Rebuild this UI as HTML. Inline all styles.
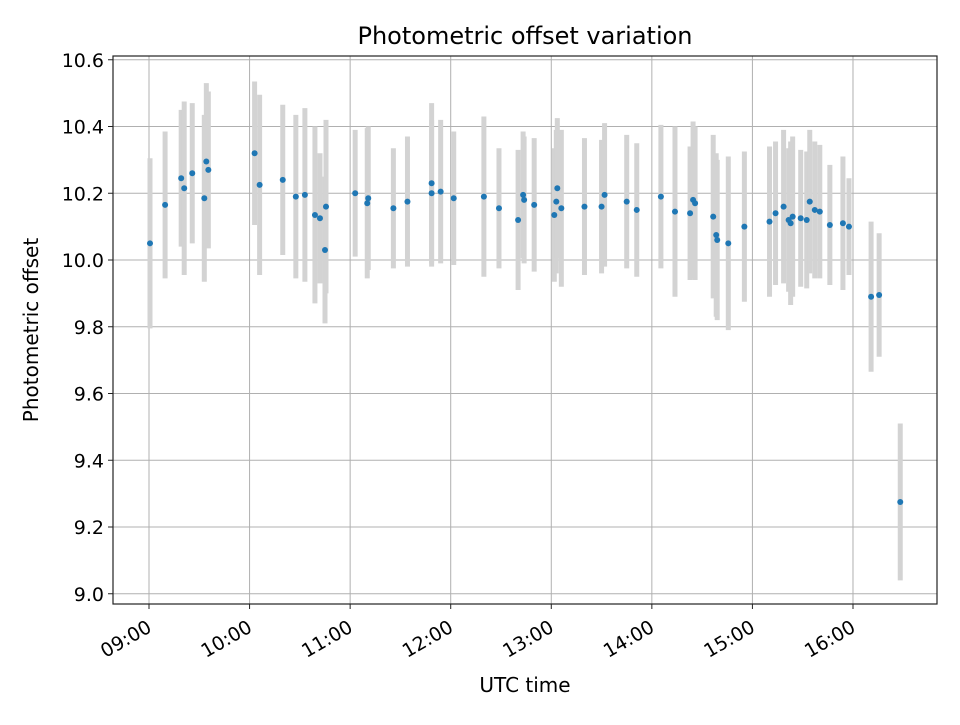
<!DOCTYPE html>
<html><head><meta charset="utf-8"><style>
body{margin:0;background:#fff}
svg text{font-family:"DejaVu Sans","Liberation Sans",sans-serif;fill:#000}
</style></head><body>
<svg id="chart" width="960" height="720">
<rect width="960" height="720" fill="#fff"/>
<text x="525" y="44" font-size="24" text-anchor="middle">Photometric offset variation</text>
<g id="grid"></g><g id="bars"></g><g id="pts"></g><g id="axes"></g>
<text x="525" y="692" font-size="20" text-anchor="middle">UTC time</text>
<text transform="translate(38,330) rotate(-90)" font-size="20" text-anchor="middle">Photometric offset</text>
</svg>
<script>
const times=[9.01,9.16,9.32,9.35,9.43,9.55,9.57,9.59,10.05,10.10,10.33,10.46,10.55,10.65,10.70,10.75,10.76,11.05,11.17,11.18,11.43,11.57,11.81,11.81,11.90,12.03,12.33,12.48,12.67,12.72,12.73,12.83,13.03,13.05,13.06,13.10,13.33,13.50,13.53,13.75,13.85,14.09,14.23,14.38,14.41,14.43,14.61,14.64,14.65,14.76,14.92,15.17,15.23,15.31,15.36,15.38,15.40,15.48,15.54,15.57,15.62,15.67,15.77,15.90,15.96,16.18,16.26,16.47];
const values=[10.05,10.165,10.245,10.215,10.26,10.185,10.295,10.27,10.32,10.225,10.24,10.19,10.195,10.135,10.125,10.03,10.16,10.20,10.17,10.185,10.155,10.175,10.23,10.20,10.205,10.185,10.19,10.155,10.12,10.195,10.18,10.165,10.135,10.175,10.215,10.155,10.16,10.16,10.195,10.175,10.15,10.19,10.145,10.14,10.18,10.17,10.13,10.075,10.06,10.05,10.10,10.115,10.14,10.16,10.12,10.11,10.13,10.125,10.12,10.175,10.15,10.145,10.105,10.11,10.10,9.89,9.895,9.275];
const errors=[0.255,0.22,0.205,0.26,0.21,0.25,0.235,0.235,0.215,0.27,0.225,0.245,0.26,0.265,0.195,0.22,0.26,0.19,0.225,0.215,0.18,0.195,0.24,0.22,0.215,0.2,0.24,0.18,0.21,0.19,0.19,0.2,0.2,0.215,0.21,0.235,0.205,0.2,0.215,0.2,0.2,0.215,0.255,0.2,0.235,0.23,0.245,0.245,0.24,0.26,0.225,0.225,0.215,0.23,0.215,0.245,0.24,0.205,0.205,0.215,0.205,0.2,0.18,0.2,0.145,0.225,0.185,0.235];
const yTicks=[9.0,9.2,9.4,9.6,9.8,10.0,10.2,10.4,10.6];
const xTicks=[9,10,11,12,13,14,15,16];
const xLabels=["09:00","10:00","11:00","12:00","13:00","14:00","15:00","16:00"];
const L=113,R=937,T=56,B=604;
const X=h=>149+(h-9)*100.57, Y=v=>260-(v-10)*333.75;
const NS="http://www.w3.org/2000/svg";
function mk(p,t,a){const e=document.createElementNS(NS,t);for(const k in a)e.setAttribute(k,a[k]);document.getElementById(p).appendChild(e);return e;}
xTicks.forEach((h,i)=>{
 const g=mk('grid','line',{x1:X(h),x2:X(h),y1:T,y2:B,stroke:'#b0b0b0','stroke-width':1});
 
 
 const t=mk('axes','line',{x1:X(h),x2:X(h),y1:B,y2:B+5,stroke:'#222'});
 
 
 const ax=X(h)-3, ay=B+15;
 const lb=mk('axes','text',{x:ax,y:ay,'font-size':19,'text-anchor':'end','dominant-baseline':'hanging',transform:`rotate(-30 ${ax} ${ay})`});
 lb.textContent=xLabels[i];
 
 
});
yTicks.forEach(v=>{
 const g=mk('grid','line',{x1:L,x2:R,y1:Y(v),y2:Y(v),stroke:'#b0b0b0','stroke-width':1});
 
 
 const t=mk('axes','line',{x1:L-5,x2:L,y1:Y(v),y2:Y(v),stroke:'#222'});
 
 
 const lb=mk('axes','text',{x:L-9,y:Y(v)+7,'font-size':19,'text-anchor':'end'});
 lb.textContent=v.toFixed(1);
 
 
});
const fr=mk('axes','rect',{x:L,y:T,width:R-L,height:B-T,fill:'none',stroke:'#222','stroke-width':1.2});


times.forEach((h,i)=>{
 const b=mk('bars','line',{x1:X(h),x2:X(h),y1:Y(values[i]+errors[i]),y2:Y(values[i]-errors[i]),stroke:'#d3d3d3','stroke-width':5});
 
 
 const c=mk('pts','circle',{cx:X(h),cy:Y(values[i]),r:3,fill:'#1f77b4'});
 
 
});
</script>
</body></html>
